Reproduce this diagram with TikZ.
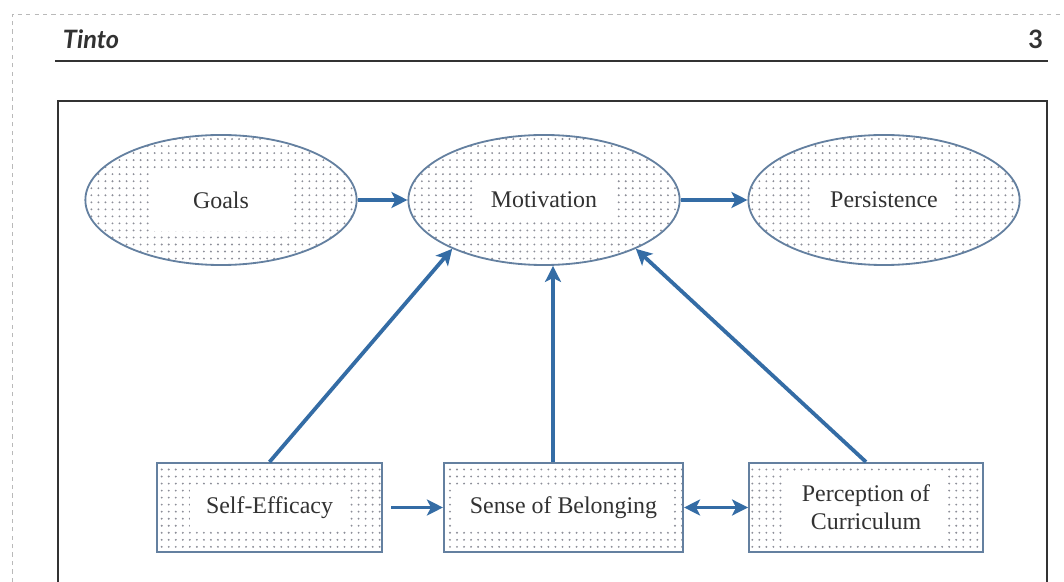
\documentclass[tikz,border=0pt]{standalone}
\usepackage{fontspec}
\setmainfont{Liberation Serif}
\newfontfamily\headfont{Lato}
\usetikzlibrary{arrows.meta,shapes.geometric,patterns.meta}
\definecolor{linkblue}{RGB}{52,108,165}
\definecolor{edgeblue}{RGB}{100,128,160}
\definecolor{dotgray}{RGB}{140,142,152}
\definecolor{inkgray}{RGB}{50,50,50}

\begin{document}
\begin{tikzpicture}[x=0.025cm,y=-0.025cm,font=\fontsize{17}{20}\selectfont,
  spot/.style={pattern={Dots[distance=5pt,radius=0.75pt]},pattern color=dotgray,draw=edgeblue,line width=1.3pt},
  oval/.style={spot,ellipse,minimum width=6.78cm,minimum height=3.25cm,inner sep=0pt},
  card/.style={spot,rectangle,minimum height=2.23cm,inner sep=0pt},
  tag/.style={fill=white,text=inkgray,inner xsep=0.4cm,inner ysep=0.3cm,align=center},
  link/.style={draw=linkblue,line width=2.7pt,-{Stealth[length=0.4cm,width=0.4cm,inset=0.1cm]}},
  head/.style={font=\headfont\fontsize{18}{21}\selectfont\bfseries,text=inkgray}]
\useasboundingbox (0,0) rectangle (1064,582);
% page frame and running head
\draw[gray!55,dashed,thin] (12,582) -- (12,14) -- (1064,14);
\node[head,font=\headfont\fontsize{18}{21}\selectfont\bfseries\itshape,anchor=base west] (runhead) at (58,49) {Tinto};
\node[head,anchor=base east] (pageno) at (1048,49) {3};
\draw[line width=1.6pt,black!80] (55,61) -- (1048,61);
\draw[line width=1.8pt,black!80] (58,582) -- (58,101) -- (1047,101) -- (1047,582);
% top row
\node[oval] (goals) at (221,200) {};
\node[tag,minimum width=3.5cm,minimum height=1.55cm] (goalstxt) at (goals) {Goals};
\node[oval] (motiv) at (544,200) {};
\node[tag] (motivtxt) at (motiv) {Motivation};
\node[oval] (persist) at (884,200) {};
\node[tag] (persisttxt) at (persist) {Persistence};
% bottom row
\node[card,minimum width=5.63cm] (selfeff) at (269.5,507.5) {};
\node[tag] (selfefftxt) at (selfeff) {Self-Efficacy};
\node[card,minimum width=5.98cm] (sense) at (563.5,507.5) {};
\node[tag] (sensetxt) at (sense) {Sense of Belonging};
\node[card,minimum width=5.85cm] (percep) at (866,507.5) {};
\node[tag] (perceptxt) at (percep) {Perception of\\Curriculum};
\coordinate (sx) at (553,0);
% arrows
\draw[link] (goals) -- (motiv);
\draw[link] (motiv) -- (persist);
\draw[link,shorten <=0.2cm] (selfeff) -- (sense);
\draw[link,{Stealth[length=0.4cm,width=0.4cm,inset=0.1cm]}-{Stealth[length=0.4cm,width=0.4cm,inset=0.1cm]}] (sense) -- (percep);
\draw[link] (selfeff.north) -- (motiv.208);
\draw[link] (sense.north -| sx) -- (motiv.south -| sx);
\draw[link] (percep.north) -- (motiv.332);
\end{tikzpicture}
\end{document}
